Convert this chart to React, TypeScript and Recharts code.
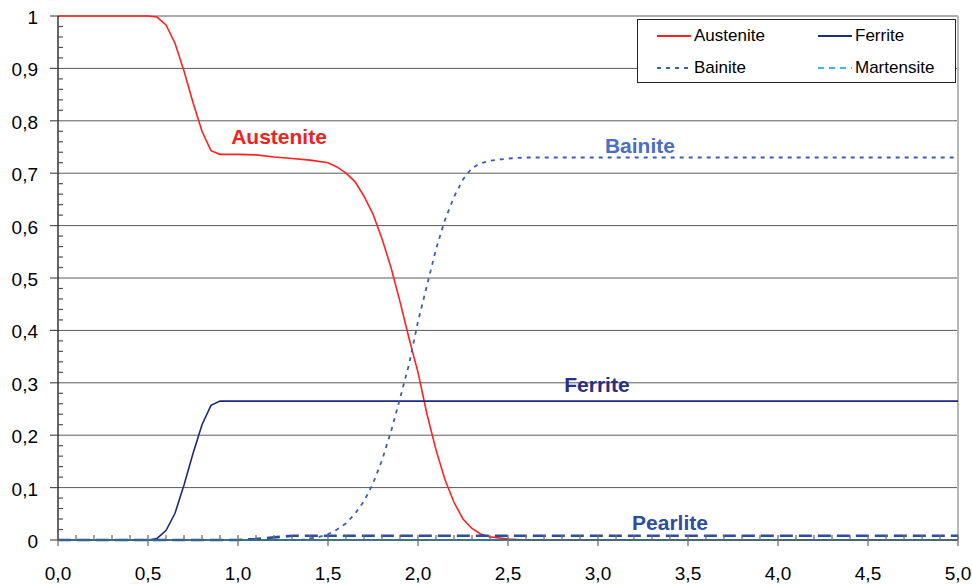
import React from 'react';
import { LineChart, Line, XAxis, YAxis, CartesianGrid, ReferenceLine, ReferenceDot } from 'recharts';

// page has an 8px body margin by default, the chart should sit at 0,0
if (typeof document !== 'undefined') document.body.style.margin = '0';

const FONT = '"Liberation Sans", Arial, sans-serif';

// tick positions
const xTicks = [0, 0.5, 1, 1.5, 2, 2.5, 3, 3.5, 4, 4.5, 5];
const xMinorTicks = Array.from({ length: 51 }, (_, i) => +(i * 0.1).toFixed(1));
const yTicks = [0, 0.1, 0.2, 0.3, 0.4, 0.5, 0.6, 0.7, 0.8, 0.9, 1];
const yMinorTicks = Array.from({ length: 51 }, (_, i) => +(i * 0.02).toFixed(2));

// phase fractions, [time, fraction]
const austenite: [number, number][] = [
  [0, 1], [0.5, 1], [0.55, 0.998], [0.6, 0.983], [0.65, 0.948], [0.7, 0.895],
  [0.75, 0.835], [0.8, 0.78], [0.85, 0.743], [0.9, 0.736], [1.0, 0.736],
  [1.1, 0.735], [1.2, 0.731], [1.3, 0.728], [1.4, 0.725], [1.5, 0.72],
  [1.55, 0.712], [1.6, 0.7], [1.65, 0.684], [1.7, 0.656], [1.75, 0.622],
  [1.8, 0.575], [1.85, 0.52], [1.9, 0.455], [1.95, 0.385], [2.0, 0.32],
  [2.05, 0.24], [2.1, 0.172], [2.15, 0.115], [2.2, 0.072], [2.25, 0.04],
  [2.3, 0.022], [2.35, 0.011], [2.4, 0.006], [2.5, 0.002], [2.6, 0], [5, 0],
];

const ferrite: [number, number][] = [
  [0, 0], [0.5, 0], [0.55, 0.003], [0.6, 0.018], [0.65, 0.051], [0.7, 0.105],
  [0.75, 0.165], [0.8, 0.22], [0.85, 0.257], [0.9, 0.265], [5, 0.265],
];

const bainite: [number, number][] = [
  [0, 0], [1.35, 0], [1.4, 0.003], [1.45, 0.006], [1.5, 0.011], [1.55, 0.02],
  [1.6, 0.032], [1.65, 0.05], [1.7, 0.074], [1.75, 0.108], [1.8, 0.152],
  [1.85, 0.207], [1.9, 0.27], [1.95, 0.335], [2.0, 0.417], [2.05, 0.486],
  [2.1, 0.555], [2.15, 0.611], [2.2, 0.655], [2.25, 0.688], [2.3, 0.71],
  [2.35, 0.719], [2.4, 0.724], [2.5, 0.728], [2.6, 0.73], [5, 0.73],
];

const pearlite: [number, number][] = [
  [0, 0], [1.0, 0], [1.1, 0.002], [1.2, 0.005], [1.3, 0.008], [5, 0.008],
];

const martensite: [number, number][] = [[0, 0], [5, 0]];

// in-plot annotations: [x, y, text, colour]
const annotations: [number, number, string, string][] = [
  [1.228, 0.769, 'Austenite', '#ee2222'],
  [3.233, 0.752, 'Bainite', '#4a6fc0'],
  [2.994, 0.296, 'Ferrite', '#2a2f7f'],
  [3.4, 0.034, 'Pearlite', '#2f4d9e'],
];

const toPoints = (arr: [number, number][]) => arr.map(([x, y]) => ({ x, y }));

const fmtY = (v: number) => (v === 0 ? '0' : v === 1 ? '1' : v.toFixed(1).replace('.', ','));
const fmtX = (v: number) => v.toFixed(1).replace('.', ',');

const isIn = (list: number[], v: number) => list.some(t => Math.abs(t - v) < 1e-6);

const XTick = (props: any) => {
  const { x, y, payload } = props;
  const major = isIn(xTicks, payload.value);
  return (
    <g>
      <line x1={x} x2={x} y1={y - 5} y2={major ? y + 6 : y} stroke="#707070" strokeWidth={1.3} />
      {major && (
        <text x={x} y={y + 40} textAnchor="middle" fontSize={19} fontFamily={FONT} fill="#000">
          {fmtX(payload.value)}
        </text>
      )}
    </g>
  );
};

const YTick = (props: any) => {
  const { x, y, payload } = props;
  const major = isIn(yTicks, payload.value);
  return (
    <g>
      {major ? (
        <line x1={x - 8} x2={x} y1={y} y2={y} stroke="#505050" strokeWidth={1.2} />
      ) : (
        <line x1={x} x2={x + 5} y1={y} y2={y} stroke="#505050" strokeWidth={1.2} />
      )}
      {major && (
        <text x={x - 20} y={y + 8} textAnchor="end" fontSize={19} fontFamily={FONT} fill="#000">
          {fmtY(payload.value)}
        </text>
      )}
    </g>
  );
};

const legendItems = [
  { name: 'Austenite', color: '#ff2020', dash: undefined, left: 657, top: 36 },
  { name: 'Ferrite', color: '#1f2a7a', dash: undefined, left: 818, top: 36 },
  { name: 'Bainite', color: '#3a5db0', dash: '4 5', left: 657, top: 68 },
  { name: 'Martensite', color: '#33bbee', dash: '6 5', left: 818, top: 68 },
];

export default function App() {
  return (
    <div style={{ position: 'relative', width: 972, height: 585, background: '#fff', fontFamily: FONT }}>
      <LineChart width={972} height={585} margin={{ top: 16, right: 14, bottom: 0, left: 0 }}>
        <CartesianGrid vertical={false} horizontalValues={yTicks} stroke="#5a5a5a" strokeWidth={1} />
        <XAxis
          type="number"
          dataKey="x"
          domain={[0, 5]}
          ticks={xMinorTicks}
          interval={0}
          height={45}
          tickSize={0}
          tickMargin={0}
          tickLine={false}
          tick={<XTick />}
          axisLine={{ stroke: '#303030', strokeWidth: 1.2 }}
        />
        <YAxis
          type="number"
          domain={[0, 1]}
          ticks={yMinorTicks}
          interval={0}
          width={58}
          tickSize={0}
          tickMargin={0}
          tickLine={false}
          tick={<YTick />}
          axisLine={{ stroke: '#000', strokeWidth: 1.2 }}
        />
        <ReferenceLine x={5} stroke="#b8b8b8" strokeWidth={2} />
        <Line data={toPoints(austenite)} dataKey="y" type="linear" stroke="#ff2020" strokeWidth={1.6} dot={false} isAnimationActive={false} />
        <Line data={toPoints(ferrite)} dataKey="y" type="linear" stroke="#1f2a7a" strokeWidth={1.6} dot={false} isAnimationActive={false} />
        <Line data={toPoints(bainite)} dataKey="y" type="linear" stroke="#3a5db0" strokeWidth={1.8} strokeDasharray="4 5" dot={false} isAnimationActive={false} />
        <Line data={toPoints(pearlite)} dataKey="y" type="linear" stroke="#2f4d9e" strokeWidth={2.6} strokeDasharray="13 6" dot={false} isAnimationActive={false} />
        <Line data={toPoints(martensite)} dataKey="y" type="linear" stroke="#33bbee" strokeWidth={1.6} dot={false} isAnimationActive={false} />
        {annotations.map(([x, y, text, color]) => (
          <ReferenceDot
            key={text}
            x={x}
            y={y}
            r={1}
            fill="none"
            stroke="none"
            ifOverflow="visible"
            label={{ value: text, position: 'center', fill: color, fontSize: 21, fontWeight: 'bold', fontFamily: FONT }}
          />
        ))}
      </LineChart>

      {/* legend box, drawn over the grid like the original */}
      <div
        style={{
          position: 'absolute',
          left: 637,
          top: 19,
          width: 319,
          height: 64,
          boxSizing: 'border-box',
          border: '1px solid #222',
          background: '#fff',
        }}
      />
      {legendItems.map(item => (
        <div key={item.name} style={{ position: 'absolute', left: item.left, top: item.top - 11, height: 22, display: 'flex', alignItems: 'center' }}>
          <svg width={34} height={22} style={{ display: 'block' }}>
            <line x1={0} x2={34} y1={11} y2={11} stroke={item.color} strokeWidth={1.8} strokeDasharray={item.dash} />
          </svg>
          <span style={{ marginLeft: 3, fontSize: 17, color: '#000', whiteSpace: 'nowrap' }}>{item.name}</span>
        </div>
      ))}
    </div>
  );
}
